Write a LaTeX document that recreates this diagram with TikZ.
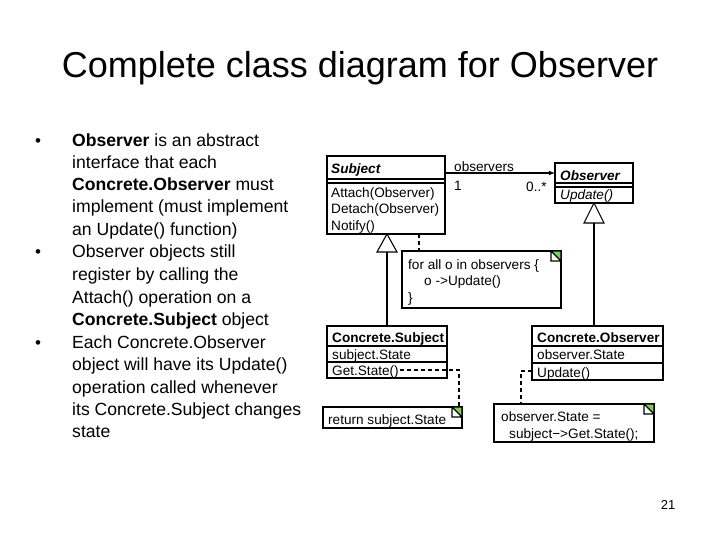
\documentclass[tikz,border=0pt]{standalone}
\usepackage{fontspec}
\setmainfont{Liberation Sans}
\begin{document}
\begin{tikzpicture}[x=1pt,y=-1pt,
  body/.style={anchor=base west,inner sep=0pt,font=\fontsize{17.6}{20}\selectfont},
  small/.style={anchor=base west,inner sep=0pt,font=\fontsize{13.6}{15}\selectfont},
  box/.style={draw,line width=1.1pt},
  ln/.style={line width=1.1pt},
  dsh/.style={line width=1.1pt,dash pattern=on 4pt off 3pt},
  tri/.style={draw,line width=1.1pt,fill=white}]
\useasboundingbox (0,0) rectangle (720,540);
\node[inner sep=0pt,font=\fontsize{36}{40}\selectfont] (title) at (360,68) {Complete class diagram for Observer};
\foreach \y/\n in {147/b1,258/b2,348/b3} \node[anchor=base,inner sep=0pt,font=\fontsize{17}{20}\selectfont] (\n) at (38,\y) {•};
\node[body] (t1) at (72,147) {\textbf{Observer} is an abstract};
\node[body] (t2) at (72,169) {interface that each};
\node[body] (t3) at (72,191) {\textbf{Concrete.Observer} must};
\node[body] (t4) at (72,213) {implement (must implement};
\node[body] (t5) at (72,236) {an Update() function)};
\node[body] (t6) at (72,258) {Observer objects still};
\node[body] (t7) at (72,280) {register by calling the};
\node[body] (t8) at (72,303) {Attach() operation on a};
\node[body] (t9) at (72,325) {\textbf{Concrete.Subject} object};
\node[body] (t10) at (72,348) {Each Concrete.Observer};
\node[body] (t11) at (72,370) {object will have its Update()};
\node[body] (t12) at (72,393) {operation called whenever};
\node[body] (t13) at (72,415) {its Concrete.Subject changes};
\node[body] (t14) at (72,437) {state};
\node[inner sep=0pt,font=\fontsize{13}{15}\selectfont] (pg) at (668,505) {21};
% Subject
\draw[box] (327,156) rectangle (445,234);
\draw[ln] (327,179) -- (445,179); \draw[ln] (327,183) -- (445,183);
\node[small] (sn) at (331,174) {\textbf{\itshape Subject}};
\node[small] (s1) at (331,197) {Attach(Observer)};
\node[small] (s2) at (331,214) {Detach(Observer)};
\node[small] (s3) at (331,230) {Notify()};
\coordinate (sR) at (445,173);
% Observer
\draw[box] (555,163) rectangle (633,203);
\draw[ln] (555,183) -- (633,183); \draw[ln] (555,187) -- (633,187);
\node[small] (on) at (560,181) {\textbf{\itshape Observer}};
\node[small] (o1) at (560,200) {\itshape Update()};
\coordinate (oL) at (555,173);
\draw[ln,-latex] (sR) -- (oL);
\node[small] (obs) at (454,172) {observers};
\node[small] (one) at (454,191) {1};
\node[small] (many) at (526,192) {0..*};
% Concrete Subject
\draw[box] (327,326) rectangle (447,378);
\draw[ln] (327,346) -- (447,346); \draw[ln] (327,362) -- (447,362);
\node[small] (csn) at (332,342) {\textbf{Concrete.Subject}};
\node[small] (cs1) at (332,359) {subject.State};
\node[small] (cs2) at (332,375) {Get.State()};
% Concrete Observer
\draw[box] (532,326) rectangle (663,380);
\draw[ln] (532,346) -- (663,346); \draw[ln] (532,363) -- (663,363);
\node[small] (con) at (537,342) {\textbf{Concrete.Observer}};
\node[small] (co1) at (537,359) {observer.State};
\node[small] (co2) at (537,377) {Update()};
% generalizations
\draw[ln] (387,326) -- (387,252);
\draw[tri] (387,234) -- (397,252) -- (377,252) -- cycle;
\draw[ln] (594,326) -- (594,223);
\draw[tri] (594,203) -- (604,223) -- (584,223) -- cycle;
% notes
\newcommand\notecorner[2]{\fill[green!50!olive!70] (#1-10,#2) rectangle (#1,#2+10);
  \fill[white] (#1-10,#2) -- (#1,#2+10) -- (#1-10,#2+10) -- cycle;
  \draw[line width=1.1pt] (#1-10,#2) rectangle (#1,#2+10) (#1-10,#2) -- (#1,#2+10);}
\draw[box] (402,251) rectangle (561,308);
\notecorner{561}{251}
\node[small] (n1a) at (408,269) {for all o in observers \{};
\node[small] (n1b) at (424,285) {o ->Update()};
\node[small] (n1c) at (408,302) {\}};
\draw[dsh] (419,234) -- (419,251);
\draw[box] (323,407) rectangle (462,428);
\notecorner{462}{407}
\node[small] (n2) at (328,424) {return subject.State};
\draw[dsh] (400,370) -- (459,370) -- (459,407);
\draw[box] (494,404) rectangle (654,442);
\notecorner{654}{404}
\node[small] (n3a) at (501,421) {observer.State =};
\node[small] (n3b) at (509,438) {subject−>Get.State();};
\draw[dsh] (532,371) -- (521,371) -- (521,404);
\end{tikzpicture}
\end{document}
